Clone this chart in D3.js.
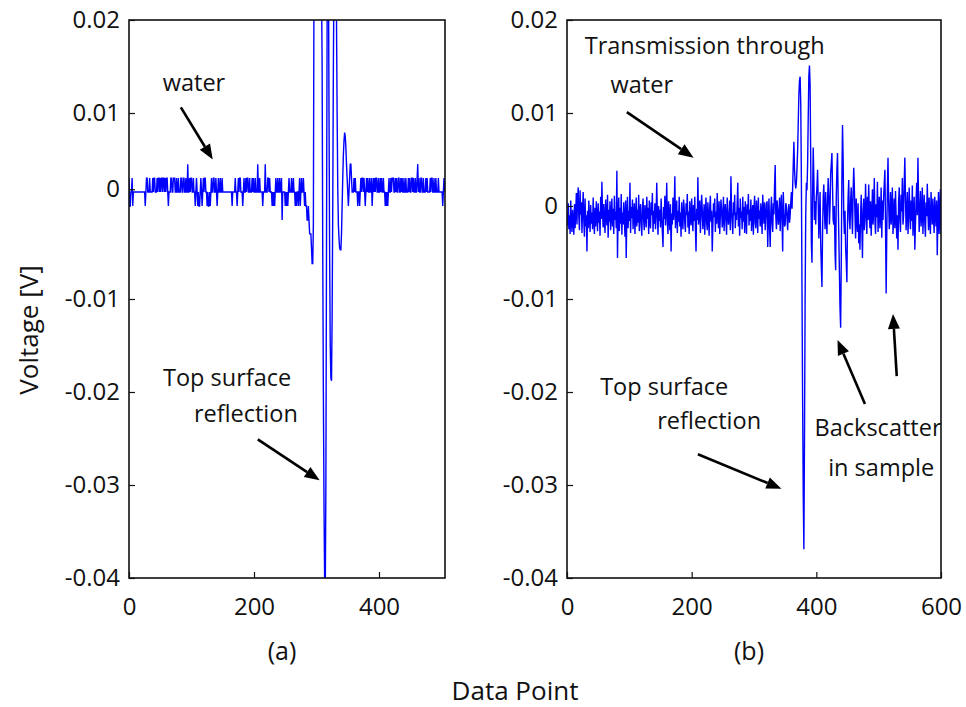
<!DOCTYPE html>
<html><head><meta charset="utf-8">
<script src="https://cdn.jsdelivr.net/npm/d3@7"></script>
<style>
body{margin:0;background:#fff}
svg{display:block}
text{font-family:"Open Sans",sans-serif;fill:#111}
</style>
</head><body>
<svg id="chart" width="966" height="707"></svg>
<script>
// ---------------- DATA (voltages in mV, one value per data point) ----------------
// (a) water only: quantized ADC trace, data points 0..505
const waterVoltage_mV = [
3,0,0,1.5,1.5,3,0,1.5,1.5,1.5,
1.5,1.5,1.5,1.5,1.5,1.5,1.5,1.5,1.5,1.5,
1.5,1.5,1.5,1.5,1.5,1.5,0,1.5,3,3,
1.5,1.5,1.5,3,1.5,1.5,1.5,1.5,3,1.5,
3,3,1.5,1.5,1.5,3,1.5,3,3,1.5,
3,1.5,3,3,1.5,3,3,1.5,3,1.5,
3,3,1.5,0,1.5,1.5,1.5,3,3,1.5,
1.5,3,3,3,1.5,1.5,3,1.5,1.5,3,
1.5,1.5,1.5,3,3,1.5,1.5,3,3,1.5,
1.5,3,1.5,1.5,4.5,1.5,1.5,3,1.5,3,
3,1.5,1.5,3,1.5,1.5,0,1.5,3,1.5,
0,1.5,0,0,1.5,3,1.5,0,1.5,3,
1.5,3,3,1.5,1.5,0,1.5,0,0,1.5,
0,1.5,3,1.5,1.5,3,3,1.5,1.5,3,
1.5,0,1.5,3,1.5,1.5,3,1.5,1.5,3,
1.5,1.5,1.5,1.5,1.5,1.5,1.5,1.5,1.5,1.5,
1.5,1.5,1.5,1.5,1.5,0,1.5,1.5,1.5,1.5,
3,1.5,1.5,0,1.5,3,1.5,3,3,1.5,
1.5,1.5,0,1.5,3,1.5,1.5,3,1.5,3,
3,1.5,1.5,3,1.5,1.5,1.5,3,1.5,3,
1.5,1.5,3,1.5,1.5,1.5,4.5,1.5,1.5,3,
1.5,1.5,1.5,1.5,0,1.5,1.5,1.5,4.5,1.5,
1.5,1.5,3,3,1.5,3,1.5,1.5,1.5,0,
1.5,0,1.5,0,1.5,3,1.5,1.5,3,1.5,
1.5,3,1.5,1.5,3,-1.5,1.5,1.5,1.5,1.5,
0,1.5,0,1.5,0,1.5,3,1.5,1.5,1.5,
3,1.5,1.5,3,1.5,1.5,0,1.5,0,1.5,
1.5,0,1.5,3,0,1.5,3,1.5,1.5,3,
1.5,0,1.5,0,0,-1.5,-1.5,0,-1.5,-3,
-3,-3,-4.5,-6.2,-6.2,-2,25,45,60,65,
62,55,45,38,33,30,28,26,24,15,
-5,-20,-32,-40,-42,-30,-5,20,30,28,
10,-5,-15,-18.5,-18.8,-12,0,15,25,30,
28,24,20,10,2,-2,-3.5,-4.5,-4.7,-4.7,
-3,0,3,5.5,7,7.9,7.5,6.3,4.5,3,
1.5,0,1.5,3,4.5,4.5,3,1.5,1.5,1.5,
3,1.5,3,1.5,1.5,1.5,0,1.5,1.5,0,
1.5,3,1.5,3,3,1.5,3,1.5,0,1.5,
3,1.5,3,1.5,1.5,3,1.5,1.5,3,0,
1.5,3,1.5,3,1.5,3,3,1.5,1.5,3,
1.5,1.5,3,1.5,3,1.5,1.5,3,1.5,1.5,
0,1.5,0,1.5,0,1.5,3,1.5,1.5,3,
1.5,3,3,3,1.5,1.5,3,1.5,3,1.5,
1.5,3,3,1.5,1.5,3,1.5,3,1.5,1.5,
3,1.5,1.5,3,1.5,1.5,1.5,3,1.5,3,
1.5,1.5,3,3,1.5,3,1.5,1.5,3,1.5,
1.5,3,4.5,1.5,3,1.5,1.5,3,3,1.5,
1.5,3,1.5,1.5,1.5,3,1.5,3,1.5,1.5,
1.5,1.5,3,1.5,3,3,1.5,1.5,3,1.5,
1.5,3,1.5,1.5,1.5,3,1.5,1.5,1.5,1.5,
1.5,1.5,0,1.5,3,1.5
];

// (b) with sample: data points 0..600
const sampleVoltage_mV = [
-0.8,-2.1,0.3,-2.5,-1.0,-3.0,0.6,-1.8,-2.8,-0.4,
-1.5,-3.1,0.2,-2.4,-0.6,1.4,-2.0,0.9,2.0,-1.2,
-2.6,1.7,-0.9,0.4,-2.9,-0.3,1.5,-1.7,-3.3,0.8,
-2.2,-1.0,-4.9,-0.5,-2.4,0.6,-1.3,-2.8,0.1,-1.9,
-0.7,-2.5,0.9,-1.6,-3.0,-0.2,-2.2,0.5,-1.1,-2.7,
0.3,-1.8,-0.6,-3.2,1.0,-1.4,2.6,-0.8,-2.3,0.2,
-1.6,-2.9,0.7,-0.9,-2.1,1.2,-3.4,-0.4,-1.7,0.5,
-2.6,-1.0,0.8,-2.2,-0.3,-3.0,1.1,-1.5,-0.6,-2.4,
3.8,-5.6,-1.0,0.9,-2.7,-0.2,-1.9,1.3,-3.1,-0.7,
-2.0,0.4,-1.2,-3.3,0.6,-5.6,-0.9,1.0,-2.4,-0.5,
-1.6,2.5,-2.9,-0.1,-1.3,0.7,-2.5,-0.8,0.3,-3.0,
-1.1,0.9,-2.2,-0.4,-1.8,1.2,-2.7,-0.6,0.2,-2.0,
-3.2,-0.3,0.8,-1.5,-2.6,0.1,-0.9,-2.3,1.0,-1.4,
-0.2,-3.0,0.6,-1.7,-2.4,0.4,-1.0,1.4,-2.8,-0.5,
-1.9,0.3,-2.5,-0.7,2.5,-1.2,-3.1,0.0,-1.6,-0.4,
-2.3,0.8,-0.9,-2.8,-4.4,-0.1,-1.4,1.1,-2.1,-0.6,
2.5,-1.8,-3.0,0.5,-1.1,-2.6,0.2,-4.9,-0.8,-2.0,
0.9,-1.5,-0.3,3.2,-2.4,-1.0,0.6,-2.9,-0.5,-1.7,
1.0,-2.2,-0.7,-3.3,0.4,-1.3,-2.5,0.7,-0.2,-1.9,
-2.8,0.3,-1.0,1.3,-2.3,-0.6,-3.0,0.5,-1.4,-2.1,
0.8,-0.9,-2.7,0.1,-1.6,1.0,-2.4,-4.9,-0.3,-1.5,
3.1,-2.0,-0.8,0.6,-2.9,-1.1,1.2,-0.4,-2.5,-1.3,
0.2,-3.1,-0.7,0.9,-1.8,-2.6,0.4,-1.0,-3.2,-0.2,
1.1,-1.7,-0.5,-4.9,-2.2,0.3,-1.2,0.8,-2.8,-0.6,
-1.9,1.4,-0.9,-2.4,0.5,-3.0,-1.1,0.7,-0.3,-2.3,
-1.4,1.0,-2.7,-0.4,0.2,-1.6,-3.1,0.9,-0.8,-2.0,
-1.2,0.6,-2.6,3.2,-0.5,-1.8,-3.0,0.4,-1.0,1.2,
-2.4,-0.7,-1.5,0.3,2.5,-2.2,-0.2,-3.2,0.8,-1.3,
-0.6,-2.5,1.0,-1.7,-0.1,-2.9,0.5,-1.1,-3.0,0.2,
-0.9,1.3,-2.1,-0.4,-1.6,0.7,-2.7,-1.0,0.1,-3.1,
-0.3,1.1,-1.8,-2.4,0.6,-0.8,-2.9,0.9,-1.4,-0.5,
-2.2,0.3,-1.1,-3.0,1.2,-0.7,-1.9,0.4,-2.6,-1.2,
0.2,0.5,-4.4,-1.6,0.8,-2.3,-4.4,-0.6,1.0,-1.8,
-2.8,0.3,-0.9,2.2,4.4,-1.2,-2.5,0.6,-0.4,-2.0,
-1.1,0.9,-2.7,-0.3,1.2,-1.6,-4.9,1.5,-0.8,-2.2,
-2.0,0.3,0.0,-1.4,-2.6,-0.5,0.2,-1.8,-1.0,0.4,
1.5,-0.3,2.0,4.5,6.9,4.0,2.5,1.9,2.5,4.0,
6.0,9.0,12.0,13.5,13.9,11.0,3.0,-9.0,-21.0,-31.0,
-36.9,-25.0,-10.0,-1.0,2.5,1.7,4.5,9.5,14.0,15.1,
13.0,5.0,-4.0,-6.1,1.0,6.3,3.0,-1.5,0.5,-2.0,
1.0,2.0,3.9,0.5,-3.5,-1.0,1.5,-4.0,-6.5,-8.7,
-3.0,1.0,2.3,-0.5,-2.5,1.5,-1.0,-3.0,0.5,3.0,
1.0,-2.0,0.0,3.5,4.5,5.7,2.0,-1.5,-2.0,0.0,
-5.0,-6.9,1.0,4.0,5.7,1.0,-3.0,-7.0,-11.0,-13.1,
-6.0,3.0,8.7,5.0,-1.0,-3.0,-0.5,-4.5,-6.0,-8.2,
-2.0,1.0,2.8,-1.5,-2.5,0.5,2.0,-0.8,-3.0,1.5,
4.1,2.0,-1.0,-3.5,0.8,-1.5,-2.8,0.3,-4.0,-2.0,
-4.7,-1.0,1.2,-2.2,-5.6,-0.5,0.8,-2.6,-1.2,2.4,
-0.8,-3.0,1.0,-1.5,2.3,-0.6,-2.4,0.5,-3.2,-1.0,
1.8,-2.0,-0.4,3.0,-1.6,-3.0,0.2,-1.2,2.6,-2.8,
-0.5,1.0,-2.4,-1.0,2.0,-3.4,0.6,-1.5,1.0,2.5,
3.9,-2.0,-9.4,-3.0,2.0,5.2,0.5,-2.5,-1.0,1.5,
-2.0,-0.5,2.0,-3.0,-1.2,0.8,-2.4,1.6,-1.0,-3.5,
-1.0,-4.7,0.5,2.0,-1.5,-2.8,1.2,-0.6,3.0,-2.0,
-1.0,2.5,5.2,1.0,-2.6,-0.4,1.5,-3.0,-1.2,2.0,
-0.8,-2.5,0.6,-1.6,2.2,-3.2,-1.0,1.0,-4.7,-2.0,
0.5,2.5,-1.0,5.2,0.8,-2.8,-0.5,1.6,-2.2,-1.0,
2.0,-3.0,-0.6,1.2,-1.8,-3.3,0.4,-1.1,2.4,-0.6,
-2.6,0.9,-1.4,-3.0,1.5,-0.4,-2.0,0.8,-1.2,-2.9,
1.0,-0.8,-2.2,0.6,-5.3,-1.0,1.5,-3.0,-0.5,1.8,
-3.0
];

// axis ticks
const xTicksA = [0, 200, 400];
const xTicksB = [0, 200, 400, 600];
const xDomainA = [0, 505.6];
const xDomainB = [0, 600];
const yDomain_mV = [-40, 20];
const yTicksA_mV = [20, 10, 1.8, -10, -20, -30, -40];   // the "0" label of (a) sits at the trace baseline
const yTicksB_mV = [20, 10, 0, -10, -20, -30, -40];
const yTickLabels = ["0.02", "0.01", "0", "-0.01", "-0.02", "-0.03", "-0.04"];
const panelLabels = ["(a)", "(b)"];
const xTitle = "Data Point";
const yTitle = "Voltage [V]";

// annotations in data coordinates [data point, mV]
const textsA = [
  {t: "water", x: 104, y: 13.3},
  {t: "Top surface", x: 157, y: -18.4},
  {t: "reflection", x: 187, y: -22.3}
];
const arrowsA = [
  {from: [83, 10.6], to: [134, 5.0]},
  {from: [206, -25.1], to: [305, -29.5]}
];
const textsB = [
  {t: "Transmission through", x: 221, y: 17.3},
  {t: "water", x: 120, y: 13.1},
  {t: "Top surface", x: 156, y: -19.4},
  {t: "reflection", x: 228, y: -23.0},
  {t: "Backscatter", x: 499, y: -23.8},
  {t: "in sample", x: 504, y: -28.1}
];
const arrowsB = [
  {from: [96, 10.1], to: [203, 5.2]},
  {from: [210, -26.7], to: [344, -30.4]},
  {from: [478, -21.3], to: [434, -14.4]},
  {from: [529, -18.3], to: [523, -11.6]}
];

// ---------------- DRAWING ----------------
const svg = d3.select("#chart");
const plotTop = 20, plotBottom = 578;
const y = d3.scaleLinear().domain(yDomain_mV).range([plotBottom, plotTop]);

const panels = [
  {data: waterVoltage_mV, xd: xDomainA, left: 129, right: 445, xt: xTicksA, yt: yTicksA_mV, texts: textsA, arrows: arrowsA, label: panelLabels[0]},
  {data: sampleVoltage_mV, xd: xDomainB, left: 567, right: 941, xt: xTicksB, yt: yTicksB_mV, texts: textsB, arrows: arrowsB, label: panelLabels[1]}
];

const defs = svg.append("defs");

panels.forEach((p, i) => {
  const x = d3.scaleLinear().domain(p.xd).range([p.left, p.right]);
  const g = svg.append("g");

  defs.append("clipPath").attr("id", "clip" + i)
    .append("rect").attr("x", p.left).attr("y", plotTop)
    .attr("width", p.right - p.left).attr("height", plotBottom - plotTop);

  // trace
  const line = d3.line().x((d, k) => x(k)).y(d => y(d));
  g.append("path").datum(p.data)
    .attr("clip-path", `url(#clip${i})`)
    .attr("d", line)
    .attr("fill", "none").attr("stroke", "#0000ff")
    .attr("stroke-width", 1.4).attr("stroke-linejoin", "miter");

  // y axis
  const ya = g.append("g").attr("transform", `translate(${p.left},0)`)
    .call(d3.axisLeft(y).tickValues(p.yt).tickFormat((d, k) => yTickLabels[k])
      .tickSizeInner(-6).tickSizeOuter(0).tickPadding(9));
  ya.select(".domain").remove();
  ya.selectAll("line").attr("stroke", "#111").attr("stroke-width", 1.2);
  ya.selectAll("text").attr("font-size", 24).attr("font-family", "Open Sans").attr("fill", "#111");

  // x axis
  const xa = g.append("g").attr("transform", `translate(0,${plotBottom})`)
    .call(d3.axisBottom(x).tickValues(p.xt).tickFormat(d3.format("d"))
      .tickSizeInner(-6).tickSizeOuter(0).tickPadding(20));
  xa.select(".domain").remove();
  xa.selectAll("line").attr("stroke", "#111").attr("stroke-width", 1.2);
  xa.selectAll("text").attr("font-size", 24).attr("font-family", "Open Sans").attr("fill", "#111");

  // frame
  g.append("rect").attr("x", p.left).attr("y", plotTop)
    .attr("width", p.right - p.left).attr("height", plotBottom - plotTop)
    .attr("fill", "none").attr("stroke", "#111").attr("stroke-width", 1.6);

  // annotations
  p.texts.forEach(t => {
    g.append("text").attr("x", x(t.x)).attr("y", y(t.y))
      .attr("text-anchor", "middle").attr("dominant-baseline", "central")
      .attr("font-size", 23.5).text(t.t);
  });
  p.arrows.forEach(a => {
    const x1 = x(a.from[0]), y1 = y(a.from[1]), x2 = x(a.to[0]), y2 = y(a.to[1]);
    const ang = Math.atan2(y2 - y1, x2 - x1);
    const L = 15, Wd = 6;
    const bx = x2 - L * Math.cos(ang), by = y2 - L * Math.sin(ang);
    g.append("line").attr("x1", x1).attr("y1", y1).attr("x2", bx).attr("y2", by)
      .attr("stroke", "#000").attr("stroke-width", 2.6);
    const px = -Math.sin(ang) * Wd, py = Math.cos(ang) * Wd;
    g.append("path")
      .attr("d", `M${x2},${y2}L${bx + px},${by + py}L${bx - px},${by - py}Z`)
      .attr("fill", "#000");
  });

  // panel label
  svg.append("text").attr("x", (p.left + p.right) / 2 - 5).attr("y", 650)
    .attr("text-anchor", "middle").attr("dominant-baseline", "central")
    .attr("font-size", 25).text(p.label);
});

// axis titles
svg.append("text").attr("x", 515).attr("y", 700)
  .attr("text-anchor", "middle")
  .attr("font-size", 26).text(xTitle);
svg.append("text").attr("transform", "translate(28,330) rotate(-90)")
  .attr("text-anchor", "middle").attr("dominant-baseline", "central")
  .attr("font-size", 26).text(yTitle);
</script>
</body></html>
